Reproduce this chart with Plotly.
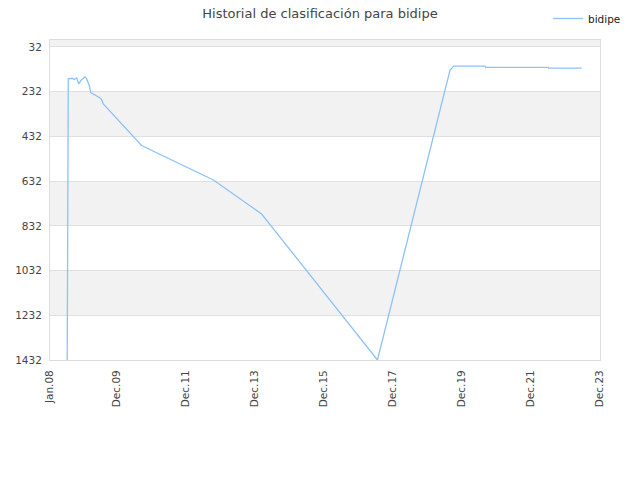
import plotly.graph_objects as go

dates = [
    "2008-07-01", "2008-07-06", "2008-07-12", "2008-08-24", "2008-09-11",
    "2008-10-09", "2008-10-30", "2008-11-27", "2009-01-05", "2009-01-23",
    "2009-02-20", "2009-03-07", "2009-04-21", "2009-06-13", "2009-07-01",
    "2009-07-17", "2010-08-26", "2012-09-23", "2014-02-15", "2017-06-23",
    "2019-07-30", "2019-08-20", "2019-09-07", "2020-08-04", "2020-08-08",
    "2022-06-03", "2022-06-07", "2023-05-22",
]
ranks = [
    1432, 806, 175, 172, 178,
    171, 197, 180, 166, 175,
    206, 236, 247, 260, 269,
    287, 473, 627, 779, 1432,
    135, 125, 118, 118, 123,
    123, 127, 127,
]
ytick_vals = [32, 232, 432, 632, 832, 1032, 1232, 1432]
xtick_vals = ["2008-01-01", "2009-12-01", "2011-12-01", "2013-12-01",
              "2015-12-01", "2017-12-01", "2019-12-01", "2021-12-01", "2023-12-01"]
xtick_text = ["Jan.08", "Dec.09", "Dec.11", "Dec.13", "Dec.15",
              "Dec.17", "Dec.19", "Dec.21", "Dec.23"]
bands = [(1, 32), (232, 432), (632, 832), (1032, 1232)]

fig = go.Figure()
fig.add_trace(go.Scatter(x=dates, y=ranks, mode="lines", name="bidipe",
                         line=dict(color="#8cc2f7", width=1.3)))

shapes = []
for a, b in bands:
    shapes.append(dict(type="rect", xref="paper", yref="y", x0=0, x1=1, y0=a, y1=b,
                       fillcolor="#f2f2f2", line=dict(width=0), layer="below"))

fig.update_layout(
    width=640, height=480,
    margin=dict(l=50, r=40, t=40, b=120, autoexpand=False),
    paper_bgcolor="white", plot_bgcolor="white",
    font=dict(family="DejaVu Sans", size=10.5, color="#444"),
    title=dict(text="Historial de clasificación para bidipe", x=0.5, xref="container",
               xanchor="center", y=1 - 13 / 480, yref="container", yanchor="middle",
               font=dict(size=13, color="#444")),
    showlegend=True,
    legend=dict(xref="container", yref="container", x=548 / 640, y=1 - 4 / 480,
                xanchor="left", yanchor="top", font=dict(size=10.5, color="#222"),
                bgcolor="rgba(0,0,0,0)", itemwidth=30),
    shapes=shapes,
    xaxis=dict(type="date", range=["2008-01-01", "2023-12-01"],
               tickvals=xtick_vals, ticktext=xtick_text, tickangle=-90,
               showgrid=False, showline=True, linecolor="#dddddd", mirror=True,
               ticks="", zeroline=False, ticklabelstandoff=5),
    yaxis=dict(range=[1432, 1], tickvals=ytick_vals,
               showgrid=True, gridcolor="#e0e0e0", gridwidth=1,
               showline=True, linecolor="#dddddd", mirror=True,
               ticks="", zeroline=False, ticklabelstandoff=5),
)

fig.write_html("out.html", config={"displayModeBar": False},
               post_script="document.body.style.margin='0';document.body.style.overflow='hidden';")
